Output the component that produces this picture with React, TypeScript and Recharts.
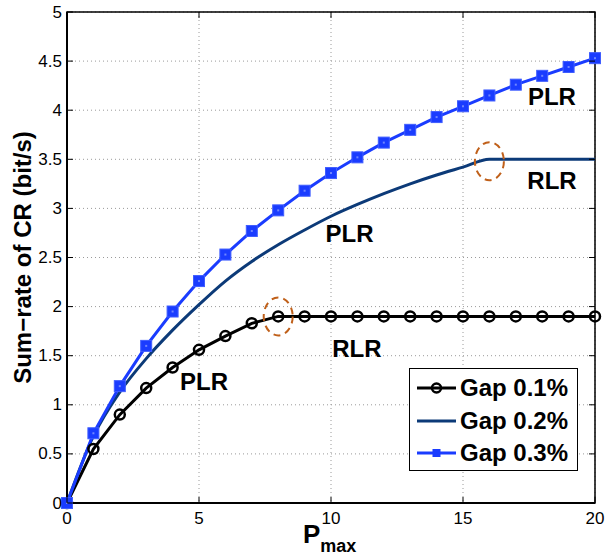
import { LineChart, Line, CartesianGrid, XAxis, YAxis, ReferenceArea, ReferenceDot } from "recharts";

const pMax = [0, 1, 2, 3, 4, 5, 6, 7, 8, 9, 10, 11, 12, 13, 14, 15, 16, 17, 18, 19, 20];
const gap01 = [0, 0.55, 0.9, 1.17, 1.38, 1.56, 1.7, 1.83, 1.9, 1.9, 1.9, 1.9, 1.9, 1.9, 1.9, 1.9, 1.9, 1.9, 1.9, 1.9, 1.9];
const gap02 = [0, 0.68, 1.13, 1.47, 1.76, 2.02, 2.26, 2.46, 2.63, 2.78, 2.92, 3.04, 3.15, 3.25, 3.34, 3.42, 3.5, 3.5, 3.5, 3.5, 3.5];
const gap03 = [0, 0.71, 1.19, 1.6, 1.95, 2.26, 2.53, 2.77, 2.98, 3.18, 3.36, 3.52, 3.67, 3.8, 3.93, 4.04, 4.15, 4.26, 4.35, 4.44, 4.53];

const xTicks = [0, 5, 10, 15, 20];
const yTicks = [0, 0.5, 1, 1.5, 2, 2.5, 3, 3.5, 4, 4.5, 5];

const seriesNames = ["Gap 0.1%", "Gap 0.2%", "Gap 0.3%"];

// text annotations on the plot, in data units
const notes = [
  { text: "PLR", x: 5.19, y: 1.24 },
  { text: "RLR", x: 10.98, y: 1.57 },
  { text: "PLR", x: 10.7, y: 2.74 },
  { text: "RLR", x: 18.37, y: 3.28 },
  { text: "PLR", x: 18.37, y: 4.14 },
];
const switchPoints = [
  { x: 8, y: 1.9 },
  { x: 16, y: 3.48 },
];

const data = pMax.map((p, i) => ({ p, g1: gap01[i], g2: gap02[i], g3: gap03[i] }));

const FONT = "'Liberation Sans', Arial, Helvetica, sans-serif";
const BLACK = "#000000";
const NAVY = "#0c3a78";
const BLUE = "#1a3cff";
const ORANGE = "#c0601a";

const L = 67;
const R = 595;
const T = 12;
const B = 503;

function YTick(props: any) {
  const { x, y, payload } = props;
  return (
    <g>
      <line x1={L} x2={L + 6} y1={y} y2={y} stroke="#000" strokeWidth={1} />
      <line x1={R - 6} x2={R} y1={y} y2={y} stroke="#000" strokeWidth={1} />
      <text x={x} y={y} textAnchor="end" dominantBaseline="central" fontSize={17} fontFamily={FONT} fill="#000">
        {payload.value}
      </text>
    </g>
  );
}

function XTick(props: any) {
  const { x, payload } = props;
  return (
    <g>
      <line x1={x} x2={x} y1={B} y2={B - 6} stroke="#000" strokeWidth={1} />
      <line x1={x} x2={x} y1={T} y2={T + 6} stroke="#000" strokeWidth={1} />
      <text x={x} y={524} textAnchor="middle" fontSize={17} fontFamily={FONT} fill="#000">
        {payload.value}
      </text>
    </g>
  );
}

function SquareDot(props: any) {
  const { cx, cy, index } = props;
  return (
    <g key={index}>
      <rect x={cx - 5.5} y={cy - 5.5} width={11} height={11} fill={BLUE} stroke="#3f5dff" strokeWidth={1} />
      <rect x={cx - 1} y={cy - 1} width={2} height={2} fill="#6f86ff" />
    </g>
  );
}

function GapLegend() {
  const rows = [
    { name: seriesNames[0], color: BLACK, mark: "circle" },
    { name: seriesNames[1], color: NAVY, mark: "none" },
    { name: seriesNames[2], color: BLUE, mark: "square" },
  ];
  return (
    <div
      style={{
        position: "absolute",
        left: 409,
        top: 368,
        width: 167,
        height: 101,
        border: "1.5px solid #000",
        background: "#fff",
      }}
    >
      {rows.map((r, i) => (
        <div key={i} style={{ display: "flex", alignItems: "center", height: 32.5, marginTop: i === 0 ? 3 : 0 }}>
          <svg width={50} height={20} style={{ flex: "none" }}>
            <line x1={7} x2={46} y1={10} y2={10} stroke={r.color} strokeWidth={3} />
            {r.mark === "circle" && <circle cx={26.5} cy={10} r={4.5} fill="none" stroke={r.color} strokeWidth={2.5} />}
            {r.mark === "square" && <rect x={22.5} y={6} width={8} height={8} fill={r.color} />}
          </svg>
          <span style={{ fontFamily: FONT, fontWeight: "bold", fontSize: 24, color: "#000", lineHeight: 1 }}>{r.name}</span>
        </div>
      ))}
    </div>
  );
}

export default function App() {
  return (
    <div style={{ position: "absolute", left: 0, top: 0, width: 605, height: 556, background: "#fff" }}>
      <LineChart width={605} height={556} data={data} margin={{ top: T, right: 605 - R, left: 0, bottom: 0 }}>
        <CartesianGrid stroke="#9a9a9a" strokeDasharray="1 3" />
        <XAxis
          dataKey="p"
          type="number"
          domain={[0, 20]}
          ticks={xTicks}
          height={556 - B}
          tickLine={false}
          tickSize={0}
          tickMargin={6}
          axisLine={{ stroke: "#000", strokeWidth: 2 }}
          tick={<XTick />}
          label={{
            content: () => (
              <text x={303} y={543} fontFamily={FONT} fontWeight="bold" fill="#000">
                <tspan fontSize={26}>P</tspan>
                <tspan fontSize={18} dy={9}>max</tspan>
              </text>
            ),
          }}
        />
        <YAxis
          type="number"
          domain={[0, 5]}
          ticks={yTicks}
          width={L}
          tickLine={false}
          tickSize={0}
          tickMargin={5}
          axisLine={{ stroke: "#000", strokeWidth: 2 }}
          tick={<YTick />}
          label={{
            content: () => (
              <text
                transform={`translate(31, ${(T + B) / 2}) rotate(-90)`}
                textAnchor="middle"
                fontFamily={FONT}
                fontWeight="bold"
                fontSize={24}
                fill="#000"
              >
                Sum−rate of CR (bit/s)
              </text>
            ),
          }}
        />
        <ReferenceArea x1={0} x2={20} y1={0} y2={5} fill="none" stroke="#000" strokeWidth={1.5} ifOverflow="visible" />
        <Line
          dataKey="g1"
          name={seriesNames[0]}
          type="linear"
          stroke={BLACK}
          strokeWidth={3}
          dot={{ r: 5, fill: "none", stroke: BLACK, strokeWidth: 2.5 }}
          isAnimationActive={false}
        />
        <Line dataKey="g2" name={seriesNames[1]} type="monotone" stroke={NAVY} strokeWidth={3} dot={false} isAnimationActive={false} />
        <Line
          dataKey="g3"
          name={seriesNames[2]}
          type="linear"
          stroke={BLUE}
          strokeWidth={3}
          dot={<SquareDot />}
          isAnimationActive={false}
        />
        {switchPoints.map((s, i) => (
          <ReferenceDot
            key={"s" + i}
            x={s.x}
            y={s.y}
            r={1}
            shape={(p: any) => (
              <ellipse cx={p.cx} cy={p.cy} rx={14.5} ry={19} fill="none" stroke={ORANGE} strokeWidth={2} strokeDasharray="7 5" />
            )}
          />
        ))}
        {notes.map((n, i) => (
          <ReferenceDot
            key={"n" + i}
            x={n.x}
            y={n.y}
            r={1}
            shape={(p: any) => (
              <text x={p.cx} y={p.cy} textAnchor="middle" dominantBaseline="central" fontFamily={FONT} fontWeight="bold" fontSize={24} fill="#000">
                {n.text}
              </text>
            )}
          />
        ))}
      </LineChart>
      <GapLegend />
    </div>
  );
}
